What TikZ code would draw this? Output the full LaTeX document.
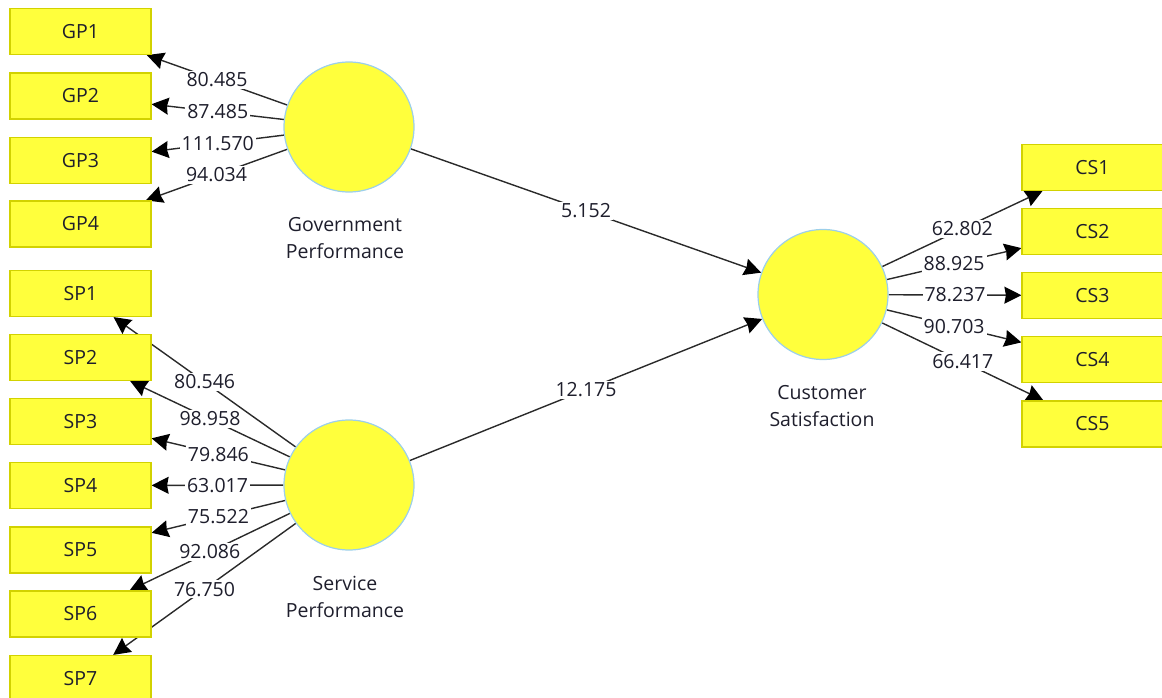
\documentclass[tikz,border=0pt]{standalone}
\usepackage{fontspec}
\setmainfont{Open Sans}
\usetikzlibrary{arrows.meta}
\definecolor{boxfill}{HTML}{FFFF3C}
\definecolor{boxline}{HTML}{D2D200}
\definecolor{circline}{HTML}{9CCFEA}
\definecolor{txt}{HTML}{1E1E2C}
\definecolor{edge}{HTML}{2A2A2A}
\pgfdeclarelayer{edgelayer}
\pgfdeclarelayer{labellayer}
\pgfsetlayers{edgelayer,labellayer,main}
\tikzset{
  indbox/.style={rectangle, fill=boxfill, draw=boxline, line width=1.2pt, minimum width=141pt, minimum height=46pt, inner sep=0pt, text=txt, font=\fontsize{19.5}{22}\selectfont},
  latent/.style={circle, fill=boxfill, draw=circline, line width=1.2pt, minimum size=130pt, inner sep=0pt},
  conn/.style={draw=edge, line width=1.4pt, -{Stealth[length=17pt,width=17pt,inset=1.5pt,color=black]}},
  lab/.style={fill=white, inner sep=2pt, text=txt, font=\fontsize{19.5}{22}\selectfont},
  captext/.style={align=center, text=txt, font=\fontsize{19.5}{27}\selectfont}
}
\begin{document}
\begin{tikzpicture}[x=1pt,y=-1pt]
\useasboundingbox (0,0) rectangle (1162,698);
% latent variables
\node[latent] (gp) at (349,127) {};
\node[latent] (sp) at (349,485) {};
\node[latent] (cs) at (823,294.5) {};
\node[captext] (gpcap) at (345,238.5) {Government\\Performance};
\node[captext] (spcap) at (345,597) {Service\\Performance};
\node[captext] (cscap) at (822,406) {Customer\\Satisfaction};
% indicators
\node[indbox] (gp1) at (80.5,31.5) {GP1};
\node[indbox] (gp2) at (80.5,96) {GP2};
\node[indbox] (gp3) at (80.5,160.5) {GP3};
\node[indbox] (gp4) at (80.5,224) {GP4};
\node[indbox] (sp1) at (80.5,293.5) {SP1};
\node[indbox] (sp2) at (80.5,357.5) {SP2};
\node[indbox] (sp3) at (80.5,421.5) {SP3};
\node[indbox] (sp4) at (80.5,485.5) {SP4};
\node[indbox] (sp5) at (80.5,550) {SP5};
\node[indbox] (sp6) at (80.5,614) {SP6};
\node[indbox] (sp7) at (80.5,678.5) {SP7};
\node[indbox] (cs1) at (1092.5,167.5) {CS1};
\node[indbox] (cs2) at (1092.5,231.5) {CS2};
\node[indbox] (cs3) at (1092.5,295.5) {CS3};
\node[indbox] (cs4) at (1092.5,359.5) {CS4};
\node[indbox] (cs5) at (1092.5,424) {CS5};
% connectors
\begin{pgfonlayer}{edgelayer}
\foreach \a/\b in {gp/gp1,gp/gp2,gp/gp3,gp/gp4,sp/sp1,sp/sp2,sp/sp3,sp/sp4,sp/sp5,sp/sp6,sp/sp7,cs/cs1,cs/cs2,cs/cs3,cs/cs4,cs/cs5,gp/cs,sp/cs}
  \draw[conn] (\a) -- (\b);
\end{pgfonlayer}
\begin{pgfonlayer}{labellayer}
\foreach \a/\b/\t in {gp/gp1/80.485,gp/gp2/87.485,gp/gp3/111.570,gp/gp4/94.034,
  sp/sp1/80.546,sp/sp2/98.958,sp/sp3/79.846,sp/sp4/63.017,sp/sp5/75.522,sp/sp6/92.086,sp/sp7/76.750,
  cs/cs1/62.802,cs/cs2/88.925,cs/cs3/78.237,cs/cs4/90.703,cs/cs5/66.417}
  \path (\a) -- node[lab] {\t} (\b);
\path (gp) -- node[lab, pos=0.5] {5.152} (cs);
\path (sp) -- node[lab, pos=0.5] {12.175} (cs);
\end{pgfonlayer}
\end{tikzpicture}
\end{document}
